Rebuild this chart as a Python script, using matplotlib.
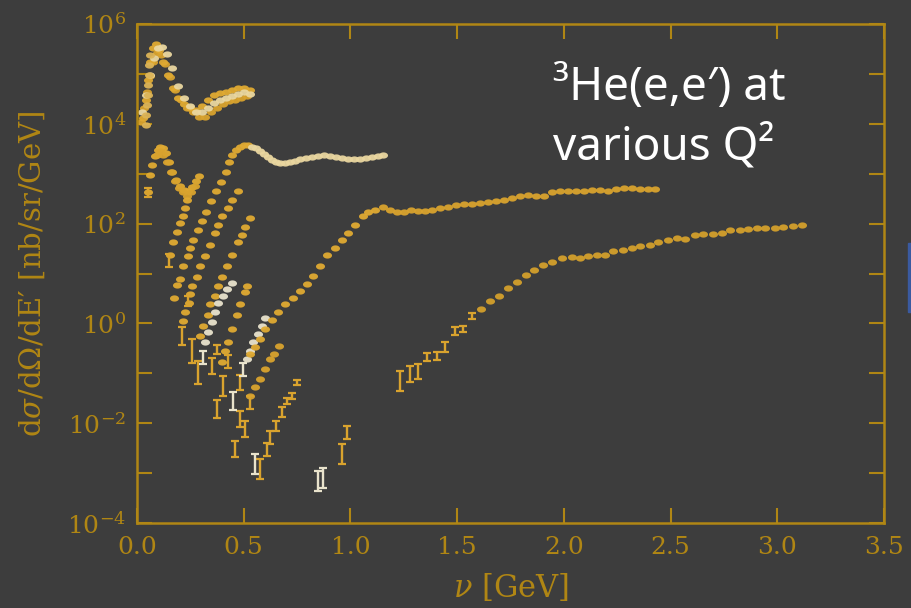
import numpy as np
import matplotlib
matplotlib.use("Agg")
import matplotlib.pyplot as plt
from matplotlib.patches import Rectangle
from matplotlib.ticker import NullFormatter

# ---- data: nu [GeV], cross section [nb/sr/GeV] ----
# low Q^2 spectra (quasi-elastic peak near 0.1 GeV)
nu_a1 = [0.028, 0.042, 0.052, 0.061, 0.075, 0.089, 0.103, 0.122, 0.145, 0.169, 0.192, 0.220,
         0.248, 0.276, 0.305, 0.333, 0.361, 0.389, 0.417, 0.445, 0.473, 0.501, 0.530]
xs_a1 = [1.3e4, 3.0e4, 7.6e4, 1.7e5, 3.3e5, 4.0e5, 3.0e5, 1.7e5, 9.5e4, 5.2e4, 3.3e4, 2.5e4,
         2.1e4, 1.9e4, 2.3e4, 3.0e4, 3.8e4, 4.2e4, 4.4e4, 4.8e4, 5.2e4, 5.2e4, 4.8e4]
nu_a2 = [0.019, 0.033, 0.047, 0.061, 0.075, 0.094, 0.112, 0.131, 0.155, 0.178, 0.206, 0.234,
         0.262, 0.291, 0.319, 0.347, 0.375, 0.403, 0.431, 0.459, 0.487, 0.515]
xs_a2 = [1.1e4, 2.1e4, 4.4e4, 9.1e4, 1.7e5, 2.6e5, 2.4e5, 1.6e5, 8.7e4, 4.8e4, 3.0e4, 2.1e4,
         1.7e4, 1.4e4, 1.4e4, 1.7e4, 2.1e4, 2.5e4, 2.8e4, 3.0e4, 3.3e4, 3.6e4]
nu_a3 = [0.023, 0.042, 0.061, 0.080, 0.098, 0.117, 0.141, 0.164, 0.192, 0.220, 0.248, 0.276,
         0.305, 0.333, 0.361, 0.389, 0.417, 0.445, 0.473, 0.501, 0.530]
xs_a3 = [1.7e4, 3.8e4, 9.5e4, 2.1e5, 3.3e5, 3.5e5, 2.5e5, 1.3e5, 5.8e4, 3.3e4, 2.3e4, 1.7e4,
         1.7e4, 2.1e4, 2.6e4, 3.0e4, 3.3e4, 3.6e4, 4.0e4, 4.4e4, 4.0e4]
nu_a4 = [0.040, 0.044, 0.047, 0.050, 0.052, 0.055, 0.058, 0.062]
xs_a4 = [9.5e3, 1.5e4, 2.4e4, 3.8e4, 6.0e4, 9.5e4, 1.5e5, 2.4e5]

nu_b = [0.052, 0.061, 0.070, 0.084, 0.098, 0.108, 0.122, 0.136, 0.150, 0.164, 0.183, 0.201,
        0.220, 0.239, 0.258, 0.276, 0.291]
xs_b = [4.2e2, 9.5e2, 1.5e3, 2.3e3, 3.0e3, 3.5e3, 3.3e3, 2.6e3, 1.7e3, 1.1e3, 7.6e2, 5.8e2,
        4.8e2, 4.6e2, 5.5e2, 7.2e2, 9.1e2]
nu_b2 = [0.094, 0.108, 0.122, 0.141, 0.159, 0.178, 0.197, 0.216, 0.234, 0.253, 0.272]
xs_b2 = [2.4e3, 2.8e3, 2.4e3, 1.7e3, 1.1e3, 7.2e2, 5.2e2, 4.2e2, 3.6e2, 4.2e2, 5.8e2]
nu_r1 = [0.155, 0.169, 0.187, 0.201, 0.216, 0.225, 0.234]
xs_r1 = [24, 42, 69, 105, 140, 210, 300]

# spectrum peaking near 0.5 GeV, then flat to 1.15 GeV
nu_c = [0.173, 0.187, 0.201, 0.216, 0.239, 0.248, 0.262, 0.286, 0.305, 0.323, 0.347, 0.370,
        0.394, 0.417, 0.431, 0.445, 0.464, 0.483, 0.501, 0.520]
xs_c = [3.3, 6.0, 7.6, 14, 22, 33, 48, 76, 115, 170, 290, 440,
        690, 1100, 1700, 2400, 3000, 3500, 3800, 3800]
nu_cp = [0.539, 0.558, 0.576, 0.595, 0.614, 0.633, 0.651, 0.670, 0.694, 0.717, 0.740, 0.764,
         0.792, 0.820, 0.848, 0.876, 0.904, 0.932, 0.961, 0.989, 1.017, 1.045, 1.073, 1.101,
         1.129, 1.153]
xs_cp = [3500, 3200, 2900, 2500, 2200, 1900, 1700, 1650, 1650, 1700, 1800, 2000,
         2100, 2200, 2300, 2400, 2300, 2200, 2100, 2000, 2000, 2000, 2100, 2200,
         2300, 2400]

# rising edges of the intermediate Q^2 spectra
nu_d = [0.216, 0.225, 0.244, 0.248, 0.258, 0.281, 0.295, 0.319, 0.342, 0.366, 0.380, 0.398,
        0.426, 0.445, 0.473]
xs_d = [1.1, 1.7, 2.6, 3.8, 5.5, 8.7, 14, 22, 38, 66, 95, 140, 210, 300, 440]
nu_e = [0.295, 0.309, 0.333, 0.342, 0.366, 0.380, 0.398, 0.422, 0.445, 0.473, 0.492, 0.506, 0.530]
xs_e = [0.55, 0.87, 1.5, 2.4, 3.5, 5.5, 8.7, 14, 24, 42, 60, 87, 130]
nu_f = [0.319, 0.333, 0.351, 0.366, 0.380, 0.403, 0.422, 0.445]
xs_f = [0.42, 0.66, 1.05, 1.7, 2.6, 3.5, 4.8, 6.6]
nu_g = [0.398, 0.412, 0.426, 0.445, 0.469, 0.483, 0.506, 0.515]
xs_g = [0.17, 0.28, 0.42, 0.76, 1.5, 2.4, 4.2, 5.5]
nu_h = [0.515, 0.530, 0.544, 0.567, 0.586, 0.600]
xs_h = [0.19, 0.28, 0.42, 0.60, 0.87, 1.3]
nu_s4b = [0.530, 0.553, 0.576, 0.600, 0.623, 0.642, 0.665]
xs_s4b = [0.035, 0.052, 0.076, 0.12, 0.19, 0.24, 0.35]

# spectrum reaching ~10^2 plateau, up to 2.43 GeV
nu_s4 = [0.530, 0.553, 0.576, 0.600, 0.633, 0.661, 0.694, 0.731, 0.764, 0.797, 0.825, 0.858,
         0.890, 0.928, 0.961, 0.989, 1.022, 1.059, 1.082, 1.115]
xs_s4 = [0.24, 0.33, 0.48, 0.76, 1.15, 1.7, 2.4, 3.2, 4.4, 6.3, 9.1, 14,
         23, 33, 46, 66, 95, 140, 170, 190]
nu_s4p = [1.153, 1.186, 1.218, 1.251, 1.284, 1.317, 1.350, 1.382, 1.420, 1.457, 1.495, 1.532,
          1.570, 1.607, 1.645, 1.682, 1.720, 1.757, 1.795, 1.832, 1.870, 1.907, 1.945, 1.982,
          2.020, 2.057, 2.095, 2.132, 2.170, 2.207, 2.245, 2.282, 2.320, 2.357, 2.395, 2.427]
xs_s4p = [220, 190, 170, 170, 190, 180, 180, 190, 210, 220, 240, 250,
          250, 260, 275, 290, 300, 330, 350, 380, 360, 360, 420, 440,
          460, 440, 440, 480, 480, 460, 500, 520, 520, 500, 500, 500]

# highest Q^2 spectrum, up to 3.12 GeV
nu_s5 = [1.612, 1.654, 1.696, 1.739, 1.781, 1.823, 1.860, 1.903, 1.945, 1.992, 2.038, 2.076,
         2.113, 2.156, 2.193, 2.231, 2.277, 2.320, 2.357, 2.404, 2.441, 2.488, 2.530, 2.568,
         2.615, 2.652, 2.699, 2.741, 2.779, 2.826, 2.863, 2.905, 2.943, 2.990, 3.027, 3.074,
         3.116]
xs_s5 = [1.9, 2.75, 3.5, 5.2, 6.9, 9.5, 12, 14.5, 17, 20, 21, 20,
         22, 24, 24, 28, 29, 33, 36, 38, 42, 46, 52, 50,
         58, 63, 63, 66, 76, 76, 79, 83, 83, 83, 87, 91,
         95]

# low-statistics points drawn with error bars (half-width in decades), light = whitish points
tail_nu = [0.052, 0.150, 0.211, 0.239, 0.258, 0.286, 0.309, 0.351, 0.375, 0.375, 0.403, 0.426,
           0.450, 0.459, 0.483, 0.483, 0.497, 0.506, 0.530, 0.553, 0.576, 0.609, 0.623, 0.651,
           0.679, 0.703, 0.726, 0.750, 0.848, 0.872, 0.961, 0.984,
           1.232, 1.279, 1.317, 1.359, 1.406, 1.443, 1.490, 1.528, 1.570]
tail_xs = [420, 18, 0.55, 2.75, 0.28, 0.105, 0.21, 0.14, 0.30, 0.019, 0.055, 0.17,
           0.028, 0.0030, 0.012, 0.066, 0.12, 0.0076, 0.026, 0.0015, 0.0012, 0.0030, 0.0052, 0.0087,
           0.017, 0.028, 0.035, 0.066, 0.00069, 0.00079, 0.0024, 0.0066,
           0.069, 0.095, 0.11, 0.21, 0.22, 0.33, 0.69, 0.79, 1.4]
tail_dex = [0.10, 0.13, 0.18, 0.10, 0.25, 0.23, 0.13, 0.16, 0.10, 0.18, 0.20, 0.13,
            0.18, 0.16, 0.16, 0.15, 0.13, 0.16, 0.13, 0.20, 0.20, 0.13, 0.13, 0.10,
            0.10, 0.06, 0.06, 0.05, 0.20, 0.20, 0.20, 0.13,
            0.20, 0.16, 0.15, 0.08, 0.08, 0.10, 0.08, 0.06, 0.06]
tail_light = [0, 0, 0, 0, 0, 0, 1, 0, 0, 0, 0, 0,
              1, 0, 0, 0, 1, 0, 0, 1, 0, 0, 0, 0,
              0, 0, 0, 0, 1, 1, 0, 0,
              0, 0, 0, 0, 0, 0, 0, 0, 0]

# ---- style ----
BG = '#3d3d3d'
AXIS_GOLD = '#b08614'
GOLD = '#e0aa32'
GOLD2 = '#d9a32e'
PALE = '#ead7a0'
LIGHT = '#e9e3cc'

plt.rcParams['font.family'] = 'DejaVu Serif'
plt.rcParams['mathtext.fontset'] = 'dejavuserif'

t = np.linspace(0, 2 * np.pi, 40)
dot = np.column_stack([1.45 * np.cos(t), np.sin(t)])

fig = plt.figure(figsize=(9.12, 6.08), dpi=100, facecolor=BG)
ax = fig.add_axes([137 / 912, 1 - 523 / 608, 747 / 912, 499 / 608])
ax.set_facecolor(BG)

series = [
    (nu_a2, xs_a2, GOLD2), (nu_a1, xs_a1, GOLD), (nu_a3, xs_a3, PALE), (nu_a4, xs_a4, '#dcb457'),
    (nu_b, xs_b, GOLD), (nu_b2, xs_b2, GOLD2), (nu_r1, xs_r1, GOLD),
    (nu_c, xs_c, GOLD), (nu_cp, xs_cp, PALE),
    (nu_d, xs_d, GOLD), (nu_e, xs_e, GOLD), (nu_f, xs_f, LIGHT), (nu_g, xs_g, GOLD),
    (nu_h, xs_h, LIGHT), (nu_s4b, xs_s4b, GOLD2),
    (nu_s4, xs_s4, GOLD), (nu_s4p, xs_s4p, GOLD2), (nu_s5, xs_s5, '#d4a02c'),
]
for nu, xs, col in series:
    ax.plot(nu, xs, ls='none', marker=dot, ms=6.5, mew=0, color=col, alpha=0.95)

tail_nu = np.array(tail_nu)
tail_xs = np.array(tail_xs)
tail_dex = np.array(tail_dex)
lo = tail_xs * (1 - 10 ** -tail_dex)
hi = tail_xs * (10 ** tail_dex - 1)
light = np.array(tail_light, dtype=bool)
for sel, col in [(~light, GOLD2), (light, LIGHT)]:
    ax.errorbar(tail_nu[sel], tail_xs[sel], yerr=[lo[sel], hi[sel]], fmt='none',
                ecolor=col, elinewidth=1.7, capsize=3.2, capthick=1.6)

ax.set_yscale('log')
ax.set_xlim(0, 3.5)
ax.set_ylim(1e-4, 1e6)
ax.set_xticks(np.arange(0, 3.51, 0.5))
ax.set_xticklabels(['%.1f' % v for v in np.arange(0, 3.51, 0.5)])
ax.set_yticks([1e-4, 1e-2, 1e0, 1e2, 1e4, 1e6])
ax.set_yticks([1e-3, 1e-1, 1e1, 1e3, 1e5], minor=True)
ax.yaxis.set_minor_formatter(NullFormatter())

for sp in ax.spines.values():
    sp.set_color(AXIS_GOLD)
    sp.set_linewidth(1.8)
ax.tick_params(which='both', direction='in', length=11, width=1.5, color=AXIS_GOLD,
               labelcolor=AXIS_GOLD, top=True, right=True, labelsize=18)
ax.tick_params(axis='x', pad=9)
ax.tick_params(axis='y', pad=8)

ax.set_xlabel(r'$\nu$ [GeV]', color=AXIS_GOLD, fontsize=22)
ax.xaxis.set_label_coords(0.5, -0.098)
ax.set_ylabel("d$\\sigma$/d$\\Omega$/dE\u2032 [nb/sr/GeV]", color=AXIS_GOLD, fontsize=21)
ax.yaxis.set_label_coords(-0.121, 0.5)

txt_font = ['Noto Sans', 'DejaVu Sans']
fig.text(553 / 912, 1 - 100 / 608, '\u00b3He(e,e\u2032) at', color='white', fontsize=33,
         family=txt_font, ha='left', va='baseline')
fig.text(553 / 912, 1 - 160 / 608, 'various Q\u00b2', color='white', fontsize=33,
         family=txt_font, ha='left', va='baseline')

# blue slide edge at the right border
fig.patches.append(Rectangle((908 / 912, 1 - 312 / 608), 4 / 912, 69 / 608,
                             transform=fig.transFigure, color='#3a5aa0', zorder=5))

fig.savefig('out.png', dpi=100, facecolor=BG)
